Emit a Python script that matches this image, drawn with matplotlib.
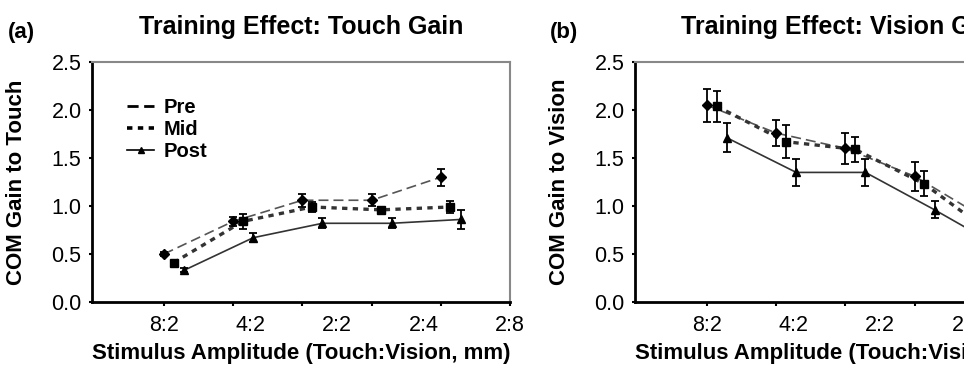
import numpy as np
import matplotlib
matplotlib.use("Agg")
import matplotlib.pyplot as plt
from matplotlib.lines import Line2D

plt.rcParams['font.family'] = ['Liberation Sans', 'DejaVu Sans']

# category positions on the x axis, one per stimulus condition
conditions = ['8:2', '4:2', '2:2', '2:4', '2:8']
cond_pos = np.array([1, 2, 3, 4, 5])
tick_label_pos = [1, 2.25, 3.5, 4.75, 6]

# panel (a): COM gain to touch
touch_pre = [0.50, 0.84, 1.06, 1.06, 1.30]
touch_pre_err = [0.02, 0.05, 0.07, 0.06, 0.09]
touch_mid = [0.41, 0.84, 0.99, 0.96, 0.99]
touch_mid_err = [0.02, 0.08, 0.05, 0.03, 0.06]
touch_post = [0.33, 0.67, 0.82, 0.82, 0.86]
touch_post_err = [0.02, 0.05, 0.05, 0.05, 0.10]

# panel (b): COM gain to vision (last condition is cut off in the figure)
vision_pre = [2.05, 1.76, 1.60, 1.31, 0.88]
vision_pre_err = [0.17, 0.14, 0.16, 0.15, 0.10]
vision_mid = [2.04, 1.67, 1.59, 1.23, 0.70]
vision_mid_err = [0.16, 0.17, 0.13, 0.13, 0.10]
vision_post = [1.71, 1.35, 1.35, 0.96, 0.55]
vision_post_err = [0.15, 0.14, 0.14, 0.09, 0.08]

offsets = {'Pre': 0.0, 'Mid': 0.14, 'Post': 0.29}
styles = {
    'Pre': dict(ls=(0, (6, 3)), lw=1.2, color='#555555', marker='D', ms=5),
    'Mid': dict(ls=(0, (1.6, 1.6)), lw=2.4, color='#333333', marker='s', ms=6),
    'Post': dict(ls='-', lw=1.2, color='#333333', marker='^', ms=6),
}


def draw_panel(ax, series, title, ylabel):
    for name, vals, errs in series:
        st = styles[name]
        x = cond_pos + offsets[name]
        ax.plot(x, vals, linestyle=st['ls'], lw=st['lw'], color=st['color'], zorder=2)
        ax.errorbar(x, vals, yerr=errs, fmt=st['marker'], ms=st['ms'],
                    color='black', ecolor='black', elinewidth=1.3,
                    capsize=3, capthick=1.3, zorder=3)

    ax.set_xlim(-0.04, 6.0)
    ax.set_ylim(0, 2.5)
    ax.set_yticks([0, 0.5, 1.0, 1.5, 2.0, 2.5])
    ax.set_yticklabels(['0.0', '0.5', '1.0', '1.5', '2.0', '2.5'])
    # tick marks sit at the groups, labels are spread evenly over the axis
    ax.xaxis.remove_overlapping_locs = False
    ax.set_xticks([1, 2, 3, 4, 5, 6])
    ax.set_xticklabels([])
    ax.set_xticks(tick_label_pos, minor=True)
    ax.set_xticklabels(conditions, minor=True)
    ax.tick_params(axis='x', which='major', length=3, width=1.5, direction='out')
    ax.tick_params(axis='x', which='minor', length=0, pad=9, labelsize=15.5)
    ax.tick_params(axis='y', length=2.5, width=1.5, pad=5, labelsize=15.5)

    for side in ['left', 'bottom']:
        ax.spines[side].set_linewidth(2.0)
        ax.spines[side].set_color('black')
    for side in ['top', 'right']:
        ax.spines[side].set_linewidth(1.5)
        ax.spines[side].set_color('#888888')

    ax.set_title(title, fontsize=18, fontweight='bold', pad=20)
    ax.set_ylabel(ylabel, fontsize=16, fontweight='bold')
    ax.yaxis.set_label_coords(-0.156, 0.5)
    ax.set_xlabel('Stimulus Amplitude (Touch:Vision, mm)', fontsize=16, fontweight='bold',
                  va='top')
    ax.xaxis.set_label_coords(0.5, -0.17)


fig = plt.figure(figsize=(9.64, 3.68), dpi=100)
ax_a = fig.add_axes([0.0954, 0.1793, 0.4336, 0.6522])
ax_b = fig.add_axes([0.6587, 0.1793, 0.4336, 0.6522])

draw_panel(ax_a, [('Pre', touch_pre, touch_pre_err),
                  ('Mid', touch_mid, touch_mid_err),
                  ('Post', touch_post, touch_post_err)],
           'Training Effect: Touch Gain', 'COM Gain to Touch')
draw_panel(ax_b, [('Pre', vision_pre, vision_pre_err),
                  ('Mid', vision_mid, vision_mid_err),
                  ('Post', vision_post, vision_post_err)],
           'Training Effect: Vision Gain', 'COM Gain to Vision')

handles = [
    Line2D([], [], ls=(0, (4, 2)), lw=2.0, color='black'),
    Line2D([], [], ls=(0, (1.5, 1.5)), lw=2.6, color='black'),
    Line2D([], [], ls='-', lw=1.2, color='black', marker='^', ms=4),
]
ax_a.legend(handles, ['Pre', 'Mid', 'Post'], loc='upper left',
            bbox_to_anchor=(0.085, 0.85), frameon=False, borderpad=0,
            borderaxespad=0, handlelength=1.3, handletextpad=0.5,
            labelspacing=0.15, prop={'weight': 'bold', 'size': 14.5})

fig.text(0.008, 1 - 38 / 368, '(a)', fontsize=16, fontweight='bold', va='baseline')
fig.text(0.5705, 1 - 38 / 368, '(b)', fontsize=16, fontweight='bold', va='baseline')

fig.savefig('out.png', dpi=100)
